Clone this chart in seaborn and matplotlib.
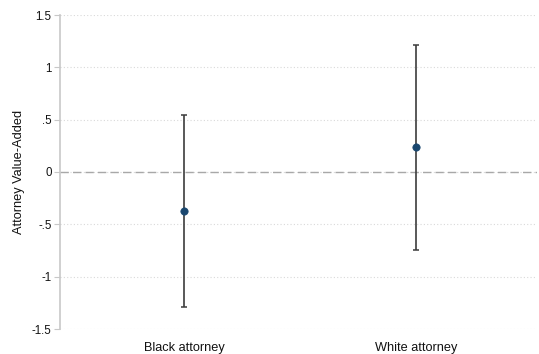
import matplotlib
matplotlib.use("Agg")
import matplotlib.pyplot as plt
import seaborn as sns
import pandas as pd
import numpy as np

# Estimated attorney value-added with 95% confidence bounds
categories = ["Black attorney", "White attorney"]
estimates = [-0.372, 0.237]
ci_lower = [-1.292, -0.742]
ci_upper = [0.548, 1.216]
yticks = [-1.5, -1, -0.5, 0, 0.5, 1, 1.5]
ytick_labels = ["-1.5", "-1", "-.5", "0", ".5", "1", "1.5"]

sns.set_style("white")
plt.rcParams["font.family"] = ["Liberation Sans", "DejaVu Sans"]

df = pd.DataFrame({"group": categories, "est": estimates,
                   "lo": ci_lower, "hi": ci_upper})
df["pos"] = np.arange(len(df))

fig = plt.figure(figsize=(5.39, 3.54), dpi=100)
ax = fig.add_axes([60 / 539, 1 - 329 / 354, 477 / 539, 314 / 354])

# dotted horizontal grid
for t in yticks:
    ax.axhline(t, color="#d9d9d9", lw=0.8, ls=(0, (1, 2)), zorder=0)
ax.axhline(0, color="#a8a8a8", lw=1.0, ls=(0, (6, 3)), zorder=1)

ax.errorbar(df["pos"], df["est"],
            yerr=[df["est"] - df["lo"], df["hi"] - df["est"]],
            fmt="none", ecolor="#3c3c3c", elinewidth=1.2,
            capsize=2.4, capthick=1.1, zorder=2)
sns.scatterplot(data=df, x="pos", y="est", ax=ax, color="#1a476f",
                s=28, edgecolor="#1a476f", linewidth=0.5, zorder=3, legend=False)

ax.set_xlim(-0.534, 1.52)
ax.set_ylim(-1.5, 1.5)
ax.set_xticks(df["pos"])
ax.set_xticklabels(categories, fontsize=9.2, color="#111111")
ax.set_yticks(yticks)
ax.set_yticklabels(ytick_labels, fontsize=8.3, color="#111111")
ax.set_xlabel("")
ax.set_ylabel("Attorney Value-Added", fontsize=9.2, color="#111111", labelpad=5)

for side in ["top", "right", "bottom"]:
    ax.spines[side].set_visible(False)
ax.spines["left"].set_color("#c8c8c8")
ax.spines["left"].set_linewidth(1.2)
ax.tick_params(axis="y", length=4, width=0.8, color="#c8c8c8", pad=2, direction="out", left=True)
ax.tick_params(axis="x", length=0, pad=9)

fig.savefig("out.png", dpi=100, facecolor="white")
